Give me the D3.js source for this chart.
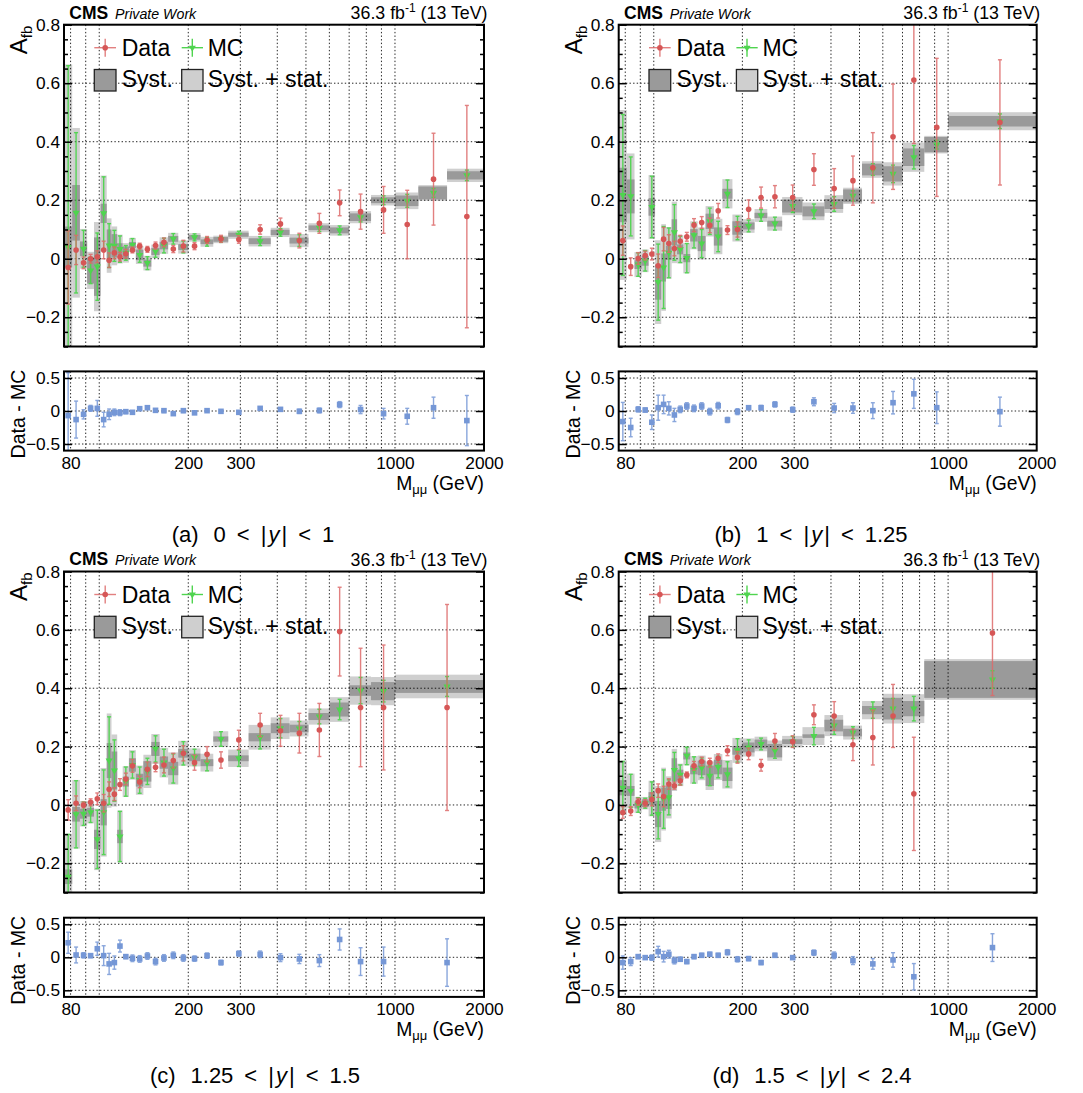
<!DOCTYPE html>
<html><head><meta charset="utf-8">
<script src="https://cdn.jsdelivr.net/npm/d3@7"></script>
<style>
body{margin:0;background:#fff;}
svg{display:block;}
text{font-family:"Liberation Sans",Arial,Helvetica,sans-serif;}
</style>
</head><body>
<svg id="chart" width="1083" height="1093"></svg>
<script>
// ---------------- DATA ----------------
const massDomain = [76, 2000];
const afbDomain = [-0.3, 0.8];
const ratioDomain = [-0.6, 0.6];
const afbTicks = [-0.2, 0, 0.2, 0.4, 0.6, 0.8];
const ratioTicks = [-0.5, 0, 0.5];
const massTicks = [80, 200, 300, 1000, 2000];
const massGrid = [80, 90, 100, 200, 300, 400, 500, 600, 700, 800, 900, 1000];

const captionLabels = ["(a)", "(b)", "(c)", "(d)"];
const rapidityLow = ["0", "1", "1.25", "1.5"];
const rapidityHigh = ["1", "1.25", "1.5", "2.4"];

const edgesA = [76, 81, 86, 91, 96, 101, 106, 110, 115, 120, 126, 133, 141, 150, 160, 171, 185, 200, 220, 243, 273, 320, 380, 440, 510, 600, 700, 830, 1000, 1200, 1500, 2000];
const edgesB = [76, 81, 86, 91, 96, 101, 106, 110, 115, 120, 126, 133, 141, 150, 160, 171, 185, 200, 220, 243, 273, 320, 380, 440, 510, 600, 700, 830, 1000, 2000];
const edgesC = [76, 81, 86, 91, 96, 101, 106, 110, 115, 120, 126, 133, 141, 150, 160, 171, 185, 200, 220, 243, 273, 320, 380, 440, 510, 600, 700, 830, 1000, 2000];
const edgesD = [76, 81, 86, 91, 96, 101, 106, 110, 115, 120, 126, 133, 141, 150, 160, 171, 185, 200, 220, 243, 273, 320, 380, 440, 510, 600, 700, 830, 2000];

// (a) 0 < |y| < 1
const dataA    = [-0.03, 0.03, -0.014, 0.0, 0.007, 0.03, -0.005, 0.02, 0.007, 0.017, 0.03, 0.043, 0.032, 0.045, 0.056, 0.033, 0.043, 0.043, 0.064, 0.068, 0.066, 0.10, 0.119, 0.062, 0.121, 0.191, 0.161, 0.167, 0.117, 0.272, 0.144];
const dataErrA = [0.125, 0.05, 0.02, 0.015, 0.02, 0.03, 0.025, 0.02, 0.015, 0.015, 0.01, 0.01, 0.01, 0.012, 0.015, 0.012, 0.02, 0.012, 0.012, 0.012, 0.013, 0.016, 0.02, 0.025, 0.034, 0.044, 0.06, 0.08, 0.117, 0.157, 0.38];
const mcA      = [0.04, 0.157, 0.034, -0.04, -0.027, 0.155, 0.045, 0.044, 0.033, 0.02, 0.047, 0.013, -0.015, 0.025, 0.045, 0.068, 0.04, 0.073, 0.058, 0.066, 0.082, 0.06, 0.09, 0.062, 0.106, 0.097, 0.142, 0.2, 0.198, 0.225, 0.285];
const mcStatA  = [0.62, 0.274, 0.063, 0.045, 0.115, 0.125, 0.075, 0.053, 0.045, 0.025, 0.022, 0.025, 0.022, 0.02, 0.025, 0.018, 0.02, 0.012, 0.015, 0.01, 0.012, 0.015, 0.013, 0.02, 0.013, 0.015, 0.016, 0.015, 0.022, 0.015, 0.018];
const systA    = [0.07, 0.095, 0.025, 0.045, 0.10, 0.033, 0.055, 0.04, 0.02, 0.022, 0.01, 0.018, 0.012, 0.012, 0.013, 0.01, 0.01, 0.008, 0.008, 0.008, 0.007, 0.01, 0.009, 0.01, 0.008, 0.01, 0.013, 0.01, 0.018, 0.022, 0.014];
const ratioA   = [-0.07, -0.13, -0.05, 0.04, 0.04, -0.13, -0.05, -0.02, -0.025, -0.01, -0.02, 0.035, 0.05, 0.01, 0.005, -0.04, 0.005, -0.028, 0.005, -0.005, -0.02, 0.04, 0.025, -0.005, 0.008, 0.097, 0.022, -0.04, -0.08, 0.05, -0.145];
const ratioErrA= [0.65, 0.28, 0.07, 0.045, 0.12, 0.11, 0.08, 0.05, 0.045, 0.03, 0.025, 0.025, 0.025, 0.022, 0.028, 0.02, 0.028, 0.017, 0.02, 0.016, 0.018, 0.022, 0.025, 0.032, 0.036, 0.045, 0.062, 0.08, 0.12, 0.16, 0.38];

// (b) 1 < |y| < 1.25
const dataB    = [0.062, -0.027, 0.001, 0.011, 0.016, -0.024, 0.067, 0.052, 0.035, 0.06, 0.075, 0.115, 0.124, 0.114, 0.164, 0.098, 0.10, 0.169, 0.209, 0.212, 0.209, 0.305, 0.24, 0.267, 0.311, 0.417, 0.611, 0.449, 0.466];
const dataErrB = [0.05, 0.03, 0.02, 0.015, 0.02, 0.04, 0.04, 0.03, 0.025, 0.02, 0.015, 0.022, 0.02, 0.025, 0.025, 0.015, 0.026, 0.032, 0.036, 0.038, 0.043, 0.054, 0.068, 0.084, 0.12, 0.18, 0.217, 0.236, 0.214];
const mcB      = [0.218, 0.213, -0.02, -0.007, 0.177, -0.08, -0.03, 0.02, 0.09, 0.032, 0.002, 0.08, 0.052, 0.128, 0.076, 0.222, 0.105, 0.112, 0.148, 0.12, 0.18, 0.162, 0.187, 0.215, 0.305, 0.29, 0.347, 0.39, 0.47];
const mcStatB  = [0.275, 0.135, 0.04, 0.035, 0.105, 0.13, 0.14, 0.085, 0.095, 0.045, 0.05, 0.043, 0.048, 0.045, 0.052, 0.047, 0.04, 0.02, 0.02, 0.022, 0.022, 0.025, 0.025, 0.017, 0.02, 0.03, 0.04, 0.015, 0.025];
const systB    = [0.093, 0.058, 0.015, 0.017, 0.03, 0.06, 0.048, 0.024, 0.045, 0.017, 0.014, 0.021, 0.026, 0.026, 0.031, 0.017, 0.023, 0.012, 0.009, 0.01, 0.022, 0.017, 0.017, 0.022, 0.02, 0.026, 0.03, 0.026, 0.018];
const ratioB   = [-0.16, -0.25, 0.025, 0.015, -0.17, 0.05, 0.10, 0.04, -0.06, 0.025, 0.075, 0.04, 0.075, -0.01, 0.08, -0.136, -0.01, 0.05, 0.05, 0.1, 0.02, 0.14, 0.045, 0.045, 0.005, 0.126, 0.26, 0.05, -0.01];
const ratioErrB= [0.29, 0.14, 0.04, 0.03, 0.11, 0.19, 0.14, 0.1, 0.1, 0.05, 0.05, 0.05, 0.05, 0.05, 0.05, 0.04, 0.045, 0.03, 0.035, 0.04, 0.04, 0.06, 0.07, 0.08, 0.12, 0.17, 0.22, 0.24, 0.22];

// (c) 1.25 < |y| < 1.5
const dataC    = [-0.017, 0.006, 0.0, 0.009, 0.021, 0.006, 0.054, 0.037, 0.07, 0.089, 0.134, 0.079, 0.122, 0.129, 0.137, 0.152, 0.177, 0.145, 0.174, 0.154, 0.223, 0.274, 0.254, 0.246, 0.257, 0.594, 0.334, 0.334, 0.334];
const dataErrC = [0.035, 0.025, 0.01, 0.012, 0.02, 0.03, 0.025, 0.022, 0.02, 0.02, 0.022, 0.02, 0.025, 0.015, 0.027, 0.025, 0.026, 0.026, 0.026, 0.028, 0.033, 0.04, 0.053, 0.068, 0.091, 0.152, 0.203, 0.214, 0.353];
const mcC      = [-0.246, -0.032, -0.03, -0.025, -0.118, -0.025, 0.152, 0.118, -0.108, 0.08, 0.137, 0.085, 0.115, 0.192, 0.145, 0.125, 0.177, 0.163, 0.145, 0.226, 0.16, 0.232, 0.263, 0.262, 0.303, 0.327, 0.392, 0.39, 0.406];
const mcStatC  = [0.145, 0.115, 0.04, 0.035, 0.1, 0.145, 0.15, 0.105, 0.086, 0.05, 0.045, 0.045, 0.045, 0.045, 0.046, 0.05, 0.04, 0.028, 0.028, 0.025, 0.028, 0.04, 0.033, 0.024, 0.025, 0.035, 0.045, 0.037, 0.034];
const systC    = [0.025, 0.025, 0.017, 0.015, 0.033, 0.045, 0.06, 0.065, 0.023, 0.017, 0.023, 0.022, 0.035, 0.024, 0.021, 0.023, 0.015, 0.013, 0.012, 0.009, 0.01, 0.014, 0.017, 0.013, 0.012, 0.024, 0.018, 0.031, 0.022];
const ratioC   = [0.22, 0.035, 0.03, 0.025, 0.13, 0.025, -0.1, -0.08, 0.17, 0.01, -0.015, -0.025, 0.02, -0.065, -0.01, 0.03, -0.01, -0.02, 0.025, -0.08, 0.056, 0.045, -0.005, -0.025, -0.05, 0.27, -0.065, -0.065, -0.08];
const ratioErrC= [0.16, 0.12, 0.04, 0.03, 0.1, 0.15, 0.16, 0.1, 0.09, 0.03, 0.05, 0.05, 0.05, 0.05, 0.05, 0.05, 0.05, 0.04, 0.04, 0.035, 0.04, 0.05, 0.06, 0.07, 0.09, 0.16, 0.21, 0.22, 0.36];

// (d) 1.5 < |y| < 2.4
const dataD    = [-0.026, -0.021, 0.011, 0.006, 0.019, 0.049, 0.029, 0.072, 0.066, 0.083, 0.103, 0.134, 0.149, 0.145, 0.16, 0.186, 0.163, 0.175, 0.136, 0.219, 0.217, 0.309, 0.305, 0.206, 0.231, 0.305, 0.038, 0.589];
const dataErrD = [0.02, 0.015, 0.012, 0.012, 0.022, 0.023, 0.035, 0.018, 0.012, 0.015, 0.01, 0.015, 0.015, 0.015, 0.015, 0.017, 0.02, 0.02, 0.02, 0.026, 0.02, 0.034, 0.049, 0.054, 0.094, 0.108, 0.194, 0.214];
const mcD      = [0.059, 0.048, 0.0, 0.006, 0.022, -0.031, 0.02, 0.026, 0.12, 0.103, 0.168, 0.12, 0.127, 0.1, 0.13, 0.105, 0.187, 0.197, 0.209, 0.186, 0.217, 0.236, 0.272, 0.248, 0.325, 0.33, 0.33, 0.43];
const mcStatD  = [0.09, 0.057, 0.025, 0.017, 0.057, 0.085, 0.1, 0.06, 0.06, 0.034, 0.03, 0.045, 0.034, 0.034, 0.037, 0.043, 0.04, 0.026, 0.02, 0.026, 0.018, 0.03, 0.03, 0.02, 0.028, 0.035, 0.042, 0.03];
const systD    = [0.026, 0.017, 0.012, 0.013, 0.022, 0.045, 0.04, 0.04, 0.04, 0.018, 0.012, 0.015, 0.025, 0.035, 0.025, 0.023, 0.015, 0.017, 0.015, 0.023, 0.008, 0.006, 0.02, 0.013, 0.014, 0.037, 0.026, 0.063];
const ratioD   = [-0.08, -0.065, 0.01, -0.005, -0.005, 0.086, 0.01, 0.046, -0.05, -0.03, -0.065, 0.01, 0.03, 0.046, 0.03, 0.076, -0.03, -0.02, -0.08, 0.03, -0.005, 0.07, 0.03, -0.05, -0.1, -0.04, -0.295, 0.147];
const ratioErrD= [0.1, 0.06, 0.03, 0.02, 0.04, 0.08, 0.08, 0.06, 0.05, 0.03, 0.03, 0.03, 0.03, 0.03, 0.03, 0.04, 0.04, 0.03, 0.03, 0.03, 0.025, 0.04, 0.05, 0.06, 0.08, 0.11, 0.2, 0.21];

// ---------------- STYLE / LAYOUT ----------------
const COL_DATA = "#d65656", COL_DATA_ERR = "#dd6a6a";
const COL_MC = "#4fd44f";
const COL_RATIO = "#7597d6";
const COL_SYST = "#9a9a9a", COL_TOT = "#cfcfcf";
const FONT = '"Liberation Sans", Arial, Helvetica, sans-serif';
const SERIF = '"Liberation Serif", "DejaVu Serif", "Times New Roman", serif';

const panels = [
  {x0:64,    x1:484,    top:24.7,  bot:346.5, rTop:371.4, rBot:450.6, capX:253, capY:541.7,
   edges:edgesA, data:dataA, dataErr:dataErrA, mc:mcA, mcStat:mcStatA, syst:systA, ratio:ratioA, ratioErr:ratioErrA},
  {x0:618.7, x1:1036.7, top:24.7,  bot:346.5, rTop:371.4, rBot:450.6, capX:811, capY:541.7,
   edges:edgesB, data:dataB, dataErr:dataErrB, mc:mcB, mcStat:mcStatB, syst:systB, ratio:ratioB, ratioErr:ratioErrB},
  {x0:64,    x1:484,    top:571.5, bot:892.5, rTop:917.7, rBot:996.9, capX:255, capY:1082.5,
   edges:edgesC, data:dataC, dataErr:dataErrC, mc:mcC, mcStat:mcStatC, syst:systC, ratio:ratioC, ratioErr:ratioErrC},
  {x0:618.7, x1:1036.7, top:571.5, bot:892.5, rTop:917.7, rBot:996.9, capX:812, capY:1082.5,
   edges:edgesD, data:dataD, dataErr:dataErrD, mc:mcD, mcStat:mcStatD, syst:systD, ratio:ratioD, ratioErr:ratioErrD}
];

const svg = d3.select("#chart");
const defs = svg.append("defs");

function fmtNum(d) {
  if (Math.abs(d) < 1e-9) return "0";
  return (d < 0 ? "\u2212" : "") + String(+Math.abs(d).toFixed(2));
}

function styleAxis(g, size) {
  g.attr("font-family", FONT).attr("font-size", size);
  g.select(".domain").remove();
  g.selectAll(".tick line").attr("stroke", "#000").attr("stroke-width", 1.5);
  g.selectAll(".tick text").attr("fill", "#000");
}

function errorBars(g, bins, xf, val, err, ys, color, width, capW, opacity) {
  const sel = g.append("g").attr("opacity", opacity);
  sel.selectAll("line.v").data(bins).join("line")
    .attr("x1", d => xf(d)).attr("x2", d => xf(d))
    .attr("y1", d => ys(val(d) + err(d))).attr("y2", d => ys(val(d) - err(d)))
    .attr("stroke", color).attr("stroke-width", width);
  sel.selectAll("line.t").data(bins).join("line")
    .attr("x1", d => xf(d) - capW).attr("x2", d => xf(d) + capW)
    .attr("y1", d => ys(val(d) + err(d))).attr("y2", d => ys(val(d) + err(d)))
    .attr("stroke", color).attr("stroke-width", width);
  sel.selectAll("line.b").data(bins).join("line")
    .attr("x1", d => xf(d) - capW).attr("x2", d => xf(d) + capW)
    .attr("y1", d => ys(val(d) - err(d))).attr("y2", d => ys(val(d) - err(d)))
    .attr("stroke", color).attr("stroke-width", width);
}

const triDown = d3.symbol().type(d3.symbolTriangle).size(22);

panels.forEach((p, idx) => {
  const x = d3.scaleLog().domain(massDomain).range([p.x0, p.x1]);
  const y = d3.scaleLinear().domain(afbDomain).range([p.bot, p.top]);
  const yr = d3.scaleLinear().domain(ratioDomain).range([p.rBot, p.rTop]);

  const bins = p.data.map((v, i) => ({
    lo: p.edges[i], hi: p.edges[i + 1], c: (p.edges[i] + p.edges[i + 1]) / 2,
    d: v, de: p.dataErr[i], m: p.mc[i], ms: p.mcStat[i], s: p.syst[i],
    t: Math.sqrt(p.syst[i] * p.syst[i] + p.mcStat[i] * p.mcStat[i]),
    r: p.ratio[i], re: p.ratioErr[i]
  }));

  const clipMain = "clipMain" + idx, clipRatio = "clipRatio" + idx;
  defs.append("clipPath").attr("id", clipMain).append("rect")
    .attr("x", p.x0).attr("y", p.top).attr("width", p.x1 - p.x0).attr("height", p.bot - p.top);
  defs.append("clipPath").attr("id", clipRatio).append("rect")
    .attr("x", p.x0).attr("y", p.rTop).attr("width", p.x1 - p.x0).attr("height", p.rBot - p.rTop);

  // ---------- main panel ----------
  const gm = svg.append("g").attr("clip-path", `url(#${clipMain})`);
  gm.selectAll("rect.tot").data(bins).join("rect")
    .attr("x", d => x(d.lo)).attr("width", d => x(d.hi) - x(d.lo))
    .attr("y", d => y(d.m + d.t)).attr("height", d => y(d.m - d.t) - y(d.m + d.t))
    .attr("fill", COL_TOT);
  gm.selectAll("rect.sys").data(bins).join("rect")
    .attr("x", d => x(d.lo)).attr("width", d => x(d.hi) - x(d.lo))
    .attr("y", d => y(d.m + d.s)).attr("height", d => y(d.m - d.s) - y(d.m + d.s))
    .attr("fill", COL_SYST);

  // grid
  const grid = gm.append("g").attr("stroke", "#000").attr("stroke-width", 1)
    .attr("stroke-dasharray", "1.4,2.2").attr("opacity", 0.85);
  grid.selectAll("line.gv").data(massGrid).join("line")
    .attr("x1", d => x(d)).attr("x2", d => x(d)).attr("y1", p.top).attr("y2", p.bot);
  grid.selectAll("line.gh").data(afbTicks.filter(t => t < 0.79)).join("line")
    .attr("x1", p.x0).attr("x2", p.x1).attr("y1", d => y(d)).attr("y2", d => y(d));

  // MC
  errorBars(gm, bins, d => x(d.c), d => d.m, d => d.ms, y, COL_MC, 1.4, 2, 0.95);
  gm.selectAll("path.mc").data(bins).join("path")
    .attr("d", triDown)
    .attr("transform", d => `translate(${x(d.c)},${y(d.m)}) rotate(180)`)
    .attr("fill", COL_MC);

  // Data
  errorBars(gm, bins, d => x(d.c), d => d.d, d => d.de, y, COL_DATA_ERR, 1.4, 2, 0.85);
  gm.selectAll("circle.data").data(bins).join("circle")
    .attr("cx", d => x(d.c)).attr("cy", d => y(d.d)).attr("r", 2.8)
    .attr("fill", COL_DATA);

  // axes main
  const minor = d3.range(-6, 17).map(i => +(i * 0.05).toFixed(2)).filter(v => !afbTicks.some(t => Math.abs(t - v) < 1e-6));
  const aL = svg.append("g").attr("transform", `translate(${p.x0},0)`)
    .call(d3.axisLeft(y).tickValues(afbTicks).tickSize(-8).tickPadding(4).tickFormat(fmtNum));
  styleAxis(aL, 17.3);
  const aLm = svg.append("g").attr("transform", `translate(${p.x0},0)`)
    .call(d3.axisLeft(y).tickValues(minor).tickSize(-4).tickFormat(""));
  styleAxis(aLm, 17);
  const aR = svg.append("g").attr("transform", `translate(${p.x1},0)`)
    .call(d3.axisRight(y).tickValues(afbTicks).tickSize(-8).tickFormat(""));
  styleAxis(aR, 17);
  const aRm = svg.append("g").attr("transform", `translate(${p.x1},0)`)
    .call(d3.axisRight(y).tickValues(minor).tickSize(-4).tickFormat(""));
  styleAxis(aRm, 17);

  svg.append("rect").attr("x", p.x0).attr("y", p.top).attr("width", p.x1 - p.x0).attr("height", p.bot - p.top)
    .attr("fill", "none").attr("stroke", "#000").attr("stroke-width", 2);

  // y title
  const yt = svg.append("text")
    .attr("transform", `translate(${p.x0 - 37},${p.top + 1}) rotate(-90)`)
    .attr("text-anchor", "end").attr("font-family", FONT).attr("font-size", 24);
  yt.append("tspan").text("A");
  yt.append("tspan").attr("font-size", 15).attr("dy", 5).text("fb");

  // header
  svg.append("text").attr("x", p.x0 + 5.3).attr("y", p.top - 6.2)
    .attr("font-family", FONT).attr("font-weight", "bold").attr("font-size", 17.5).text("CMS");
  svg.append("text").attr("x", p.x0 + 51).attr("y", p.top - 6.2)
    .attr("font-family", FONT).attr("font-style", "italic").attr("font-size", 14.2).text("Private Work");
  const lumi = svg.append("text").attr("x", p.x1 + 3.5).attr("y", p.top - 5.6)
    .attr("text-anchor", "end").attr("font-family", FONT).attr("font-size", 17.8);
  lumi.append("tspan").text("36.3 fb");
  lumi.append("tspan").attr("font-size", 12).attr("dy", -7).text("-1");
  lumi.append("tspan").attr("dy", 7).text(" (13 TeV)");

  // legend
  const lx = p.x0, ty = p.top;
  const lg = svg.append("g");
  const r1 = ty + 23;
  const LF = 23;
  lg.append("line").attr("x1", lx + 30.3).attr("x2", lx + 52).attr("y1", r1).attr("y2", r1)
    .attr("stroke", COL_DATA_ERR).attr("stroke-width", 1.4).attr("opacity", 0.85);
  lg.append("line").attr("x1", lx + 41.2).attr("x2", lx + 41.2).attr("y1", r1 - 9).attr("y2", r1 + 9)
    .attr("stroke", COL_DATA_ERR).attr("stroke-width", 1.4).attr("opacity", 0.85);
  lg.append("circle").attr("cx", lx + 41.2).attr("cy", r1).attr("r", 2.8).attr("fill", COL_DATA);
  lg.append("text").attr("x", lx + 57.7).attr("y", r1 + 8).attr("font-family", FONT).attr("font-size", LF).text("Data");
  lg.append("line").attr("x1", lx + 117.7).attr("x2", lx + 139).attr("y1", r1).attr("y2", r1)
    .attr("stroke", COL_MC).attr("stroke-width", 1.4);
  lg.append("line").attr("x1", lx + 128.3).attr("x2", lx + 128.3).attr("y1", r1 - 9).attr("y2", r1 + 9)
    .attr("stroke", COL_MC).attr("stroke-width", 1.4);
  lg.append("path").attr("d", triDown).attr("transform", `translate(${lx + 128.3},${r1}) rotate(180)`).attr("fill", COL_MC);
  lg.append("text").attr("x", lx + 143.7).attr("y", r1 + 8).attr("font-family", FONT).attr("font-size", LF).text("MC");
  const r2t = ty + 44.8, r2b = ty + 66.3;
  lg.append("rect").attr("x", lx + 30.3).attr("y", r2t).attr("width", 21.7).attr("height", r2b - r2t)
    .attr("fill", COL_SYST).attr("stroke", "#222").attr("stroke-width", 1.3);
  lg.append("text").attr("x", lx + 57.7).attr("y", ty + 62.6).attr("font-family", FONT).attr("font-size", LF).text("Syst.");
  lg.append("rect").attr("x", lx + 117.7).attr("y", r2t).attr("width", 21.3).attr("height", r2b - r2t)
    .attr("fill", COL_TOT).attr("stroke", "#222").attr("stroke-width", 1.3);
  lg.append("text").attr("x", lx + 143.7).attr("y", ty + 62.6).attr("font-family", FONT).attr("font-size", LF).text("Syst. + stat.");

  // ---------- ratio panel ----------
  const gr = svg.append("g").attr("clip-path", `url(#${clipRatio})`);
  const rgrid = gr.append("g").attr("stroke", "#000").attr("stroke-width", 1)
    .attr("stroke-dasharray", "1.4,2.2").attr("opacity", 0.85);
  rgrid.selectAll("line.gv").data(massGrid).join("line")
    .attr("x1", d => x(d)).attr("x2", d => x(d)).attr("y1", p.rTop).attr("y2", p.rBot);
  rgrid.selectAll("line.gh").data(ratioTicks).join("line")
    .attr("x1", p.x0).attr("x2", p.x1).attr("y1", d => yr(d)).attr("y2", d => yr(d));
  errorBars(gr, bins, d => x(d.c), d => d.r, d => d.re, yr, COL_RATIO, 1.4, 2, 0.85);
  gr.selectAll("rect.rp").data(bins).join("rect")
    .attr("x", d => x(d.c) - 2.8).attr("y", d => yr(d.r) - 2.8).attr("width", 5.6).attr("height", 5.6)
    .attr("fill", COL_RATIO);

  const rL = svg.append("g").attr("transform", `translate(${p.x0},0)`)
    .call(d3.axisLeft(yr).tickValues(ratioTicks).tickSize(-8).tickPadding(4).tickFormat(fmtNum));
  styleAxis(rL, 17.3);
  const rR = svg.append("g").attr("transform", `translate(${p.x1},0)`)
    .call(d3.axisRight(yr).tickValues(ratioTicks).tickSize(-8).tickFormat(""));
  styleAxis(rR, 17);
  const xa = svg.append("g").attr("transform", `translate(0,${p.rBot})`)
    .call(d3.axisBottom(x).tickValues(massTicks).tickSize(0).tickPadding(6).tickFormat(d3.format("d")));
  styleAxis(xa, 17.3);

  svg.append("rect").attr("x", p.x0).attr("y", p.rTop).attr("width", p.x1 - p.x0).attr("height", p.rBot - p.rTop)
    .attr("fill", "none").attr("stroke", "#000").attr("stroke-width", 2);

  svg.append("text")
    .attr("transform", `translate(${p.x0 - 39},${(p.rTop + p.rBot) / 2 + 3}) rotate(-90)`)
    .attr("text-anchor", "middle").attr("font-family", FONT).attr("font-size", 19.5).text("Data - MC");

  const xt = svg.append("text").attr("x", p.x1).attr("y", p.rBot + 39.5)
    .attr("text-anchor", "end").attr("font-family", FONT).attr("font-size", 19.3);
  xt.append("tspan").text("M");
  xt.append("tspan").attr("font-size", 13).attr("dy", 4).text("\u03bc\u03bc");
  xt.append("tspan").attr("dy", -4).text(" (GeV)");

  // caption
  const cap = svg.append("text").attr("x", p.capX).attr("y", p.capY)
    .attr("text-anchor", "middle").attr("font-family", SERIF).attr("font-size", 22);
  cap.append("tspan").text(captionLabels[idx]);
  cap.append("tspan").attr("dx", 15).text(rapidityLow[idx]);
  cap.append("tspan").attr("dx", 11).text("<");
  cap.append("tspan").attr("dx", 11).text("|");
  cap.append("tspan").attr("dx", 2).attr("font-style", "italic").text("y");
  cap.append("tspan").attr("dx", 2).text("|");
  cap.append("tspan").attr("dx", 11).text("<");
  cap.append("tspan").attr("dx", 11).text(rapidityHigh[idx]);
});
</script>
</body></html>
